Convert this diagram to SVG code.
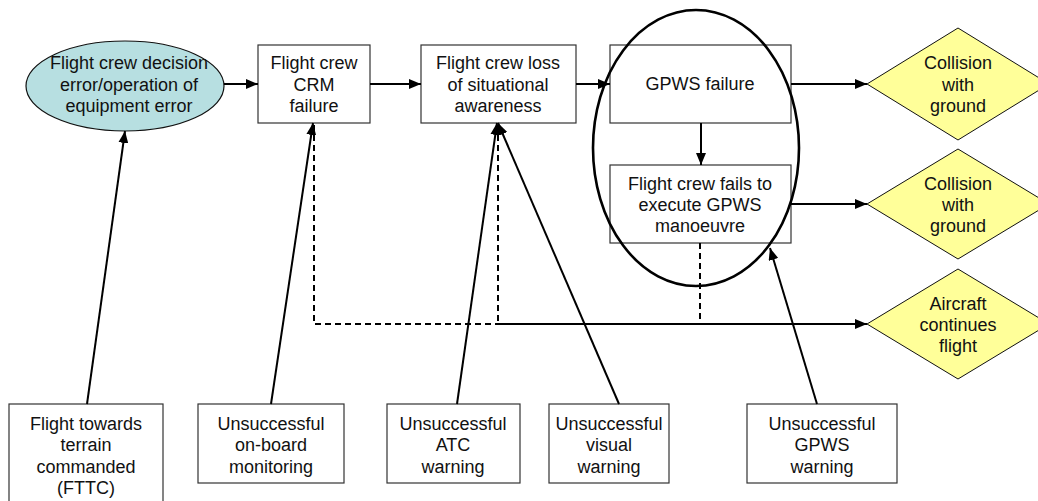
<svg xmlns="http://www.w3.org/2000/svg" width="1038" height="501" viewBox="0 0 1038 501">
  <style>
    text { font-family: "Liberation Sans", Arial, sans-serif; font-size: 18px; fill: #111; text-anchor: middle; }
    .box { fill: #ffffff; stroke: #333; stroke-width: 1.2; }
    .start { fill: #b7dfe1; stroke: #111; stroke-width: 1.2; }
    .outcome { fill: #ffff99; stroke: #111; stroke-width: 1; }
    .link { fill: none; stroke: #000; stroke-width: 2; }
    .dash { fill: none; stroke: #000; stroke-width: 2; stroke-dasharray: 6 4; }
    .ring { fill: none; stroke: #000; stroke-width: 2.6; }
  </style>
  <defs>
    <marker id="arrow" markerUnits="userSpaceOnUse" markerWidth="12" markerHeight="10" viewBox="0 0 12 10" refX="12" refY="5" orient="auto">
      <path d="M0,0 L12,5 L0,10 z" fill="#000"/>
    </marker>
  </defs>
  <rect width="1038" height="501" fill="#ffffff"/>

  <!-- main chain -->
  <g id="decision-error">
    <ellipse class="start" cx="125" cy="86" rx="99" ry="45"/>
    <text x="129" y="69">Flight crew decision</text>
    <text x="129" y="91">error/operation of</text>
    <text x="129" y="112">equipment error</text>
  </g>
  <g id="crm-failure">
    <rect class="box" x="258" y="45" width="112" height="78"/>
    <text x="314" y="69">Flight crew</text>
    <text x="314" y="91">CRM</text>
    <text x="314" y="112">failure</text>
  </g>
  <g id="loss-awareness">
    <rect class="box" x="421" y="45" width="155" height="78"/>
    <text x="498" y="69">Flight crew loss</text>
    <text x="498" y="91">of situational</text>
    <text x="498" y="112">awareness</text>
  </g>
  <g id="gpws-failure">
    <rect class="box" x="610" y="45" width="181" height="78"/>
    <text x="700" y="90">GPWS failure</text>
  </g>
  <g id="manoeuvre-failure">
    <rect class="box" x="610" y="165" width="181" height="78"/>
    <text x="700" y="190">Flight crew fails to</text>
    <text x="700" y="211">execute GPWS</text>
    <text x="700" y="232">manoeuvre</text>
  </g>

  <!-- outcomes -->
  <g id="collision-1">
    <polygon class="outcome" points="867,84 958,28 1049,84 958,140"/>
    <text x="958" y="69">Collision</text>
    <text x="958" y="91">with</text>
    <text x="958" y="112">ground</text>
  </g>
  <g id="collision-2">
    <polygon class="outcome" points="867,204 958,149 1049,204 958,259"/>
    <text x="958" y="190">Collision</text>
    <text x="958" y="211">with</text>
    <text x="958" y="232">ground</text>
  </g>
  <g id="continues-flight">
    <polygon class="outcome" points="867,324 958,269 1049,324 958,379"/>
    <text x="958" y="310">Aircraft</text>
    <text x="958" y="331">continues</text>
    <text x="958" y="352">flight</text>
  </g>

  <!-- contributing factors -->
  <g id="fttc">
    <rect class="box" x="9" y="404" width="154" height="104"/>
    <text x="86" y="430">Flight towards</text>
    <text x="86" y="451">terrain</text>
    <text x="86" y="473">commanded</text>
    <text x="86" y="494">(FTTC)</text>
  </g>
  <g id="onboard-monitoring">
    <rect class="box" x="198" y="404" width="146" height="79"/>
    <text x="271" y="430">Unsuccessful</text>
    <text x="271" y="451">on-board</text>
    <text x="271" y="473">monitoring</text>
  </g>
  <g id="atc-warning">
    <rect class="box" x="387" y="404" width="133" height="79"/>
    <text x="453" y="430">Unsuccessful</text>
    <text x="453" y="451">ATC</text>
    <text x="453" y="473">warning</text>
  </g>
  <g id="visual-warning">
    <rect class="box" x="549" y="404" width="120" height="79"/>
    <text x="609" y="430">Unsuccessful</text>
    <text x="609" y="451">visual</text>
    <text x="609" y="473">warning</text>
  </g>
  <g id="gpws-warning">
    <rect class="box" x="747" y="404" width="150" height="79"/>
    <text x="822" y="430">Unsuccessful</text>
    <text x="822" y="451">GPWS</text>
    <text x="822" y="473">warning</text>
  </g>

  <!-- connectors -->
  <g id="connectors">
    <line class="link" x1="224" y1="84" x2="258" y2="84" marker-end="url(#arrow)"/>
    <line class="link" x1="370" y1="84" x2="421" y2="84" marker-end="url(#arrow)"/>
    <line class="link" x1="576" y1="84" x2="610" y2="84" marker-end="url(#arrow)"/>
    <line class="link" x1="701" y1="123" x2="701" y2="165" marker-end="url(#arrow)"/>
    <line class="link" x1="791" y1="84" x2="867" y2="84" marker-end="url(#arrow)"/>
    <line class="link" x1="791" y1="204" x2="867" y2="204" marker-end="url(#arrow)"/>

    <path class="dash" d="M314,125 V324 H498"/>
    <line class="dash" x1="498" y1="125" x2="498" y2="324"/>
    <line class="dash" x1="700" y1="243" x2="700" y2="324"/>
    <line class="link" x1="498" y1="324" x2="867" y2="324" marker-end="url(#arrow)"/>

    <line class="link" x1="87" y1="404" x2="125" y2="131" marker-end="url(#arrow)"/>
    <line class="link" x1="271" y1="404" x2="313" y2="123" marker-end="url(#arrow)"/>
    <line class="link" x1="457" y1="404" x2="497" y2="123" marker-end="url(#arrow)"/>
    <line class="link" x1="619" y1="404" x2="498" y2="123" marker-end="url(#arrow)"/>
    <line class="link" x1="817" y1="404" x2="770" y2="248" marker-end="url(#arrow)"/>
  </g>

  <!-- grouping ring round the GPWS stage -->
  <g id="gpws-ring">
    <ellipse class="ring" cx="696" cy="148" rx="103" ry="138"/>
  </g>
</svg>
